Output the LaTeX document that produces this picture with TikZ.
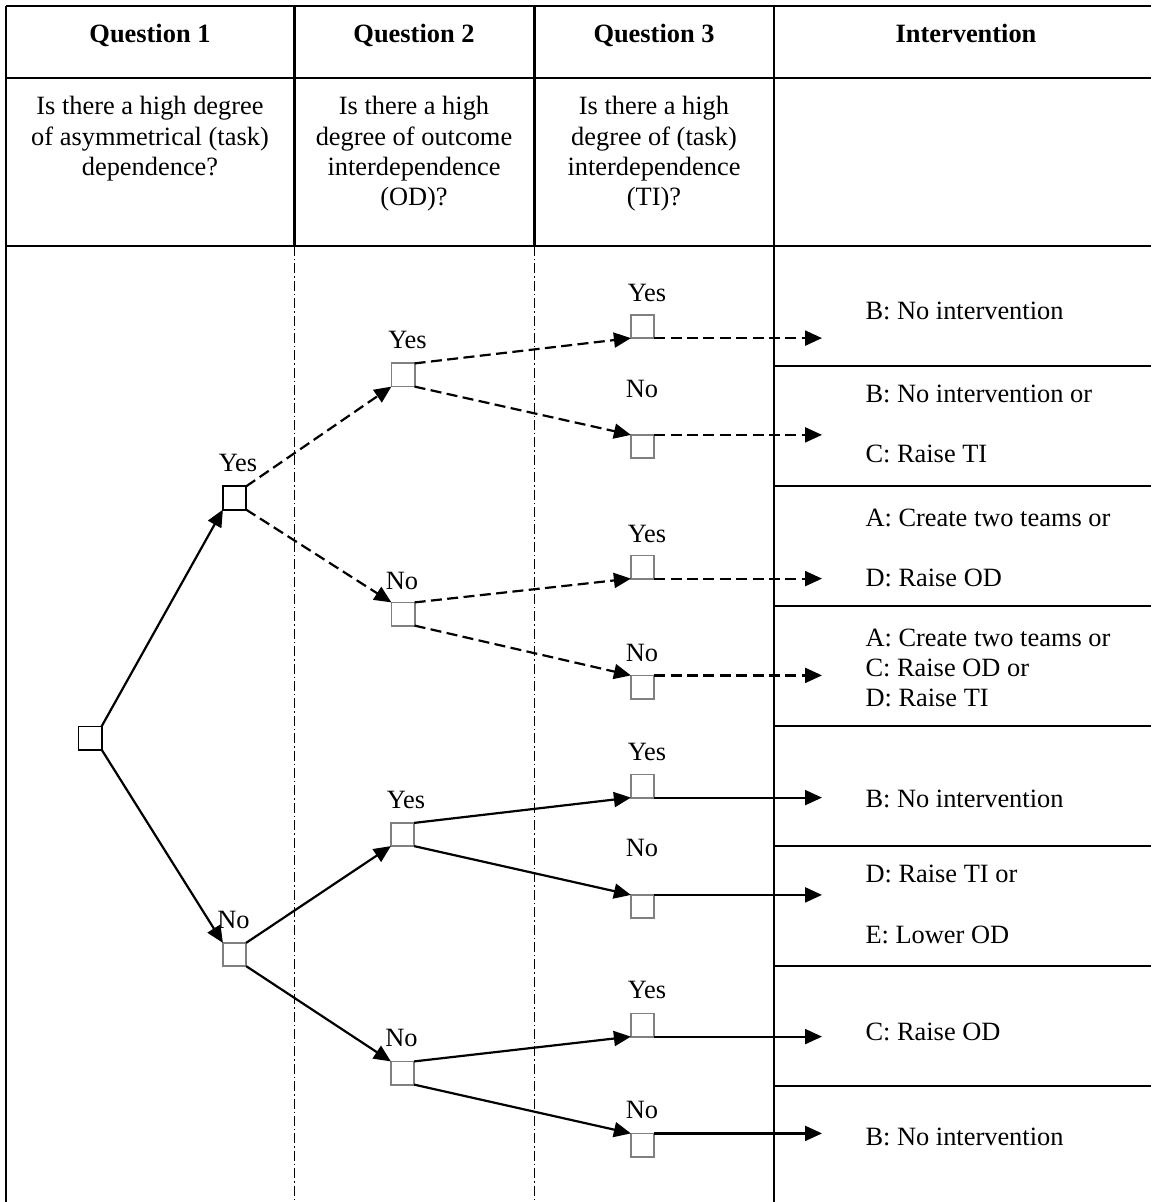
\documentclass[tikz,border=0pt]{standalone}
\usepackage{fontspec}
\setmainfont{Liberation Serif}
\usetikzlibrary{arrows.meta}
\begin{document}
\begin{tikzpicture}[x=0.5pt,y=-0.5pt,
  txt/.style={font=\fontsize{13.2pt}{15.2pt}\selectfont, inner sep=0pt, outer sep=0pt},
  hdr/.style={txt, font=\fontsize{13.2pt}{15.2pt}\selectfont\bfseries, anchor=base},
  ques/.style={txt, align=center, anchor=north},
  lbl/.style={txt},
  res/.style={txt, align=left, anchor=west},
  grid/.style={line width=1.1pt},
  sep/.style={line width=0.7pt, dash pattern=on 5pt off 1.5pt on 0.7pt off 1.5pt},
  cbox/.style={draw=black, line width=0.9pt, minimum size=11.6pt, inner sep=0pt, outer sep=0pt},
  gbox/.style={cbox, draw=black!50},
  link/.style={line width=1.1pt, -{Triangle[length=8.5pt,width=7.5pt]}},
  dlink/.style={link, dash pattern=on 5.5pt off 2.7pt}
]
\useasboundingbox (0,0) rectangle (1151,1202);

% table grid
\draw[grid] (6,6) -- (1151,6);
\draw[grid] (6,78) -- (1151,78);
\draw[grid] (6,246) -- (1151,246);
\draw[grid] (6,6) -- (6,1202);
\draw[grid] (294.5,6) -- (294.5,246);
\draw[grid] (534.5,6) -- (534.5,246);
\draw[grid] (774,6) -- (774,1202);
\foreach \yy in {366,486,606,726,846,966,1086} \draw[grid] (774,\yy) -- (1151,\yy);
\draw[sep] (294.5,246) -- (294.5,1202);
\draw[sep] (534.5,246) -- (534.5,1202);

% headers
\node[hdr] (h1) at (150,42.7) {Question 1};
\node[hdr] (h2) at (414,42.7) {Question 2};
\node[hdr] (h3) at (654,42.7) {Question 3};
\node[hdr] (h4) at (966,42.7) {Intervention};
\node[ques] (d1) at (150,96.3) {Is there a high degree\\of asymmetrical (task)\\dependence?};
\node[ques] (d2) at (414,96.3) {Is there a high\\degree of outcome\\interdependence\\(OD)?};
\node[ques] (d3) at (654,96.3) {Is there a high\\degree of (task)\\interdependence\\(TI)?};

% decision boxes
\node[cbox] (root) at (90,738) {};
\node[cbox] (q1y) at (234.5,498) {};
\node[gbox] (q1n) at (234.5,954.5) {};
\node[gbox] (q2a) at (403,375) {};
\node[gbox] (q2b) at (403,614) {};
\node[gbox] (q2c) at (402.5,834.5) {};
\node[gbox] (q2d) at (402.5,1073) {};
\node[gbox] (q3a) at (642.5,326.5) {};
\node[gbox] (q3b) at (642.5,446.5) {};
\node[gbox] (q3c) at (642.5,567) {};
\node[gbox] (q3d) at (642.5,687) {};
\node[gbox] (q3e) at (642.5,786) {};
\node[gbox] (q3f) at (642.5,906.5) {};
\node[gbox] (q3g) at (642.5,1025) {};
\node[gbox] (q3h) at (642.5,1145) {};
\coordinate (endx) at (822,0);

% labels
\node[lbl] (l1y) at (238,463) {Yes};
\node[lbl] (l1n) at (233.5,920) {No};
\node[lbl] (l2a) at (407.5,340) {Yes};
\node[lbl] (l2b) at (402,581) {No};
\node[lbl] (l2c) at (406,800) {Yes};
\node[lbl] (l2d) at (401.5,1038) {No};
\node[lbl] (l3a) at (647,293) {Yes};
\node[lbl] (l3b) at (642,389) {No};
\node[lbl] (l3c) at (647,533.5) {Yes};
\node[lbl] (l3d) at (642,652.5) {No};
\node[lbl] (l3e) at (647,752) {Yes};
\node[lbl] (l3f) at (642,848) {No};
\node[lbl] (l3g) at (647,990) {Yes};
\node[lbl] (l3h) at (642,1110) {No};

% connectors
\draw[link] (root.north east) -- (q1y.south west);
\draw[link] (root.south east) -- (q1n.north west);
\draw[dlink] (q1y.north east) -- (q2a.south west);
\draw[dlink] (q1y.south east) -- (q2b.north west);
\draw[link] (q1n.north east) -- (q2c.south west);
\draw[link] (q1n.south east) -- (q2d.north west);
\draw[dlink] (q2a.north east) -- (q3a.south west);
\draw[dlink] (q2a.south east) -- (q3b.north west);
\draw[dlink] (q2b.north east) -- (q3c.south west);
\draw[dlink] (q2b.south east) -- (q3d.north west);
\draw[link] (q2c.north east) -- (q3e.south west);
\draw[link] (q2c.south east) -- (q3f.north west);
\draw[link] (q2d.north east) -- (q3g.south west);
\draw[link] (q2d.south east) -- (q3h.north west);
\draw[dlink] (q3a.south east) -- (q3a.south east -| endx);
\draw[dlink] (q3b.north east) -- (q3b.north east -| endx);
\draw[dlink] (q3c.south east) -- (q3c.south east -| endx);
\draw[dlink] (q3d.north east) -- (q3d.north east -| endx);
\draw[link] (q3e.south east) -- (q3e.south east -| endx);
\draw[link] (q3f.north east) -- (q3f.north east -| endx);
\draw[link] (q3g.south east) -- (q3g.south east -| endx);
\draw[link] (q3h.north east) -- (q3h.north east -| endx);

% interventions
\node[res] (r1) at (865.5,311) {B: No intervention};
\node[res] (r2) at (865.5,424) {B: No intervention or\\[15.2pt]C: Raise TI};
\node[res] (r3) at (865.5,548) {A: Create two teams or\\[15.2pt]D: Raise OD};
\node[res] (r4) at (865.5,668) {A: Create two teams or\\C: Raise OD or\\D: Raise TI};
\node[res] (r5) at (865.5,799) {B: No intervention};
\node[res] (r6) at (865.5,904.5) {D: Raise TI or\\[15.2pt]E: Lower OD};
\node[res] (r7) at (865.5,1032) {C: Raise OD};
\node[res] (r8) at (865.5,1137) {B: No intervention};
\end{tikzpicture}
\end{document}
